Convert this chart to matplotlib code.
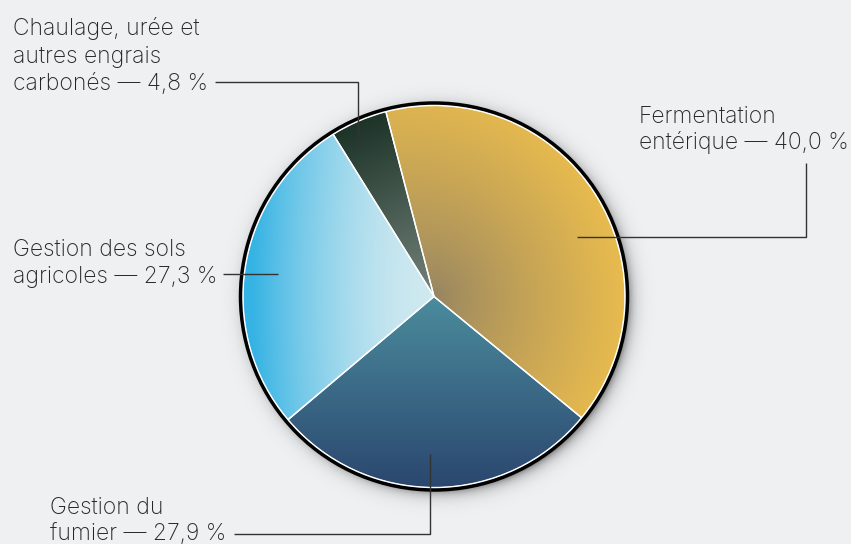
import numpy as np
import matplotlib.pyplot as plt
from matplotlib.colors import to_rgb
from matplotlib.patches import Circle

plt.rcParams['font.family'] = ['Inter', 'DejaVu Sans']

# data (clockwise from the top)
categories = ['Fermentation\nentérique', 'Gestion du\nfumier',
              'Gestion des sols\nagricoles', 'Chaulage, urée et\nautres engrais\ncarbonés']
values = [40.0, 27.9, 27.3, 4.8]

# gradient colours: (inner, outer) for each slice
grad_colors = [('#958462', '#e8bb4e'),
               ('#4b8c9d', '#2b476f'),
               ('#cfe9f0', '#35b3e4'),
               ('#74837b', '#1d3328')]
grad_kind = ['radial_right', 'down', 'left', 'radial']

# layout in pixels (y from top)
W, H = 851, 544
cx, cy, r = 434, 296.5, 191
text_pos = [(639, 123, 26), (50, 514, 26), (13, 256, 27.5), (13, 35, 27.5)]
leaders = [[(806, 163), (806, 237), (577, 237)],
           [(234, 534), (430, 534), (430, 454)],
           [(223, 274), (278, 274)],
           [(215, 82), (358, 82), (358, 148)]]
bg = '#eff0f2'


def py(y):
    return H - y


fig = plt.figure(figsize=(W / 100, H / 100), dpi=100, facecolor=bg)
ax = fig.add_axes([0, 0, 1, 1])
ax.set_facecolor(bg)

ccy = py(cy)
wedges, _ = ax.pie(values, startangle=104.6, counterclock=False,
                   center=(cx, ccy), radius=r,
                   wedgeprops=dict(facecolor='none', edgecolor='white', linewidth=1.0))
for w in wedges:
    w.set_zorder(3)

ax.set_xlim(0, W)
ax.set_ylim(0, H)
ax.set_aspect('equal')
ax.axis('off')

# soft drop shadow
n = 500
xs = np.linspace(cx - r - 40, cx + r + 40, n)
ys = np.linspace(ccy - r - 40, ccy + r + 40, n)
X, Y = np.meshgrid(xs, ys)
d = np.hypot(X - (cx + 4), Y - (ccy - 4))
alpha = np.where(d < r, 0.4, 0.4 * np.exp(-(d - r) / 6.0))
sh = np.zeros((n, n, 4))
sh[..., 3] = alpha
ax.imshow(sh, extent=(xs[0], xs[-1], ys[0], ys[-1]), origin='lower', zorder=1)

# gradient fills clipped to each wedge
gx = np.linspace(cx - r, cx + r, 400)
gy = np.linspace(ccy - r, ccy + r, 400)
GX, GY = np.meshgrid(gx, gy)
DX, DY = (GX - cx) / r, (GY - ccy) / r
for w, (c0, c1), kind in zip(wedges, grad_colors, grad_kind):
    if kind == 'down':
        t = -DY
    elif kind == 'left':
        t = np.clip(-DX * 0.95 + np.hypot(DX, DY) * 0.1, 0, 1) ** 1.8
    elif kind == 'radial':
        t = np.hypot(DX, DY)
    else:
        ang = np.arctan2(DY, DX)
        t = np.hypot(DX, DY) * (0.82 + 0.18 * np.cos(ang - np.radians(15)))
        t = np.clip(t, 0, 1) ** 0.8
    t = np.clip(t, 0, 1)[..., None]
    img = (1 - t) * np.array(to_rgb(c0)) + t * np.array(to_rgb(c1))
    im = ax.imshow(img, extent=(gx[0], gx[-1], gy[0], gy[-1]), origin='lower', zorder=2)
    im.set_clip_path(w)

# outline
ax.add_patch(Circle((cx, ccy), r + 0.5, fill=False, edgecolor='white', lw=1.2, zorder=4))
ax.add_patch(Circle((cx, ccy), r + 2.5, fill=False, edgecolor='black', lw=2.5, zorder=5))

# labels and leader lines
for cat, v, (tx, ty, lsp), pts in zip(categories, values, text_pos, leaders):
    lines = cat.split('\n')
    lines[-1] += ' — ' + f'{v:.1f}'.replace('.', ',') + ' %'
    for i, line in enumerate(lines):
        ax.text(tx, py(ty + i * lsp), line, fontsize=16.5, color='#262626',
                fontweight='light', ha='left', va='baseline', zorder=6)
    ax.plot([p[0] for p in pts], [py(p[1]) for p in pts], color='#333333',
            lw=1.0, solid_capstyle='butt', zorder=6)

fig.savefig('out.png', dpi=100, facecolor=bg)
